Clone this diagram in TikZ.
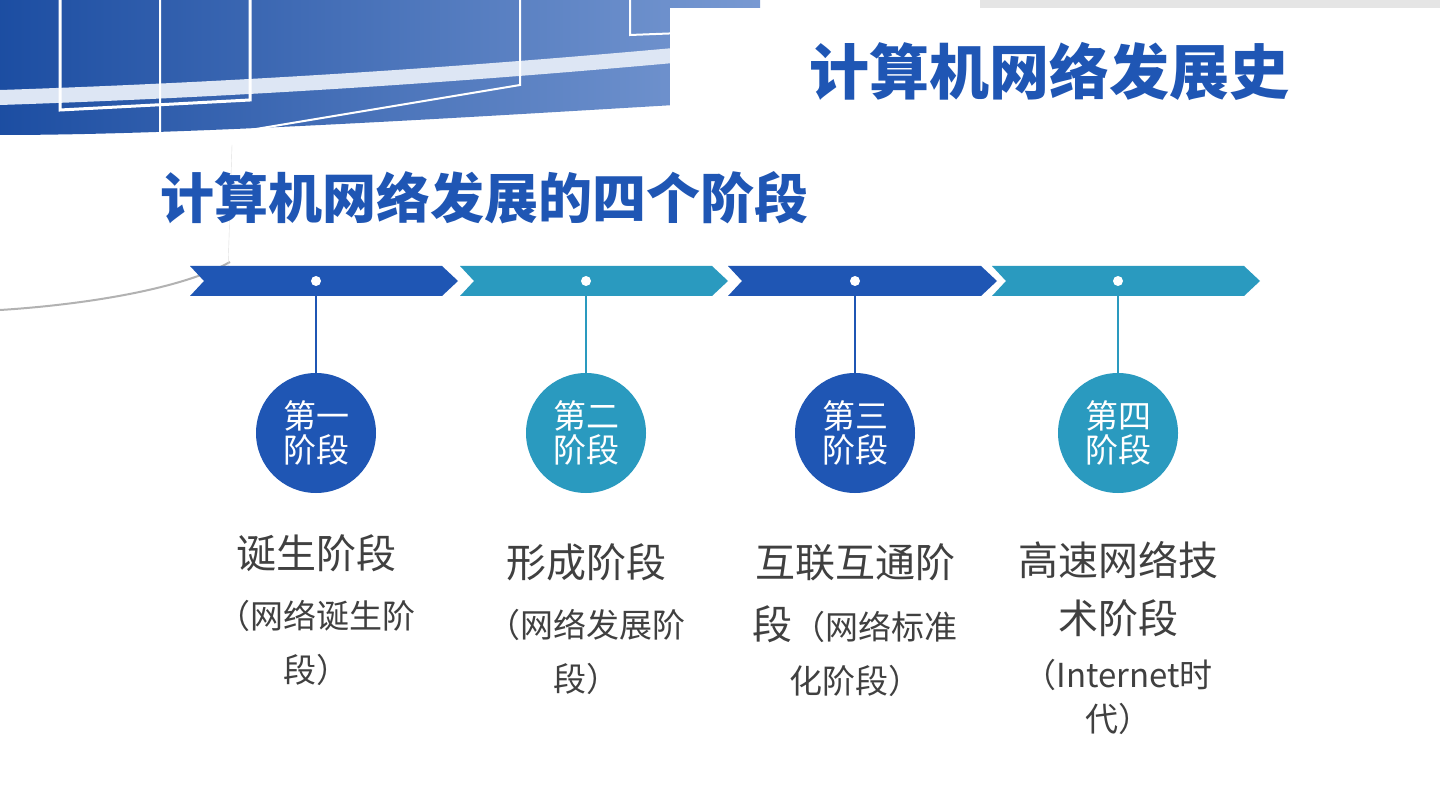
\documentclass[tikz,border=0pt]{standalone}
\usepackage{fontspec}
\setmainfont{Noto Sans CJK SC}
\usetikzlibrary{calc, positioning}
\definecolor{darkblue}{HTML}{1F56B4}
\definecolor{tealblue}{HTML}{2A9ABF}
\definecolor{textgray}{HTML}{404040}
\newcommand{\bigline}[1]{{\fontsize{40}{58}\selectfont #1}}
\newcommand{\smlline}[1]{{\fontsize{33}{56}\selectfont #1}}
\begin{document}
\begin{tikzpicture}[x=1pt, y=-1pt,
    stage/.style = {circle, minimum size=120pt, inner sep=0pt, text=white, align=center, font=\fontsize{33}{36}\selectfont},
    dot/.style = {circle, fill=white, minimum size=10pt, inner sep=0pt},
    label text/.style = {text=textgray, align=center, anchor=north, inner sep=0pt, font=\fontsize{40}{58}\selectfont}]
    \useasboundingbox (0, 0) rectangle (1440, 810);
    \fill[white] (0, 0) rectangle (1440, 810);

    % background band at the top left
    \shade[left color=darkblue!90!black, right color=darkblue!60!white]
        (0, 0) -- (760, 0) -- (760, 100) .. controls (500, 115) and (200, 135) .. (0, 135) -- cycle;
    \fill[white!85!darkblue] (0, 90) .. controls (300, 80) and (550, 60) .. (760, 40) -- (760, 55) .. controls (550, 75) and (300, 95) .. (0, 105) -- cycle;
    \draw[white, line width=3pt] (60, 0) -- (60, 110) -- (250, 100) -- (250, 0);
    \draw[white, line width=2pt] (160, 0) -- (160, 145) -- (520, 85) -- (520, 0);
    \draw[white, line width=2pt] (630, 0) -- (630, 35) -- (760, 30);
    \draw[gray!60, line width=2pt] (0, 310) .. controls (80, 305) and (180, 290) .. (230, 262);
    \draw[gray!25] (232, 145) -- (228, 270);
    \fill[gray!20] (980, 0) rectangle (1440, 8);
    \fill[white] (670, 8) -- (1425, 8) -- (1425, 150) -- (670, 150) -- cycle;

    % titles
    \node[text=darkblue, font=\fontsize{60}{64}\selectfont\bfseries, anchor=east, inner sep=0pt] (title) at (1290, 72) {计算机网络发展史};
    \node[text=darkblue, font=\fontsize{54}{58}\selectfont\bfseries, anchor=west, inner sep=0pt] (subtitle) at (160, 198) {计算机网络发展的四个阶段};

    % timeline
    \foreach \i/\xa/\xb/\col in {1/190/458/darkblue, 2/460/728/tealblue, 3/728/997/darkblue, 4/992/1260/tealblue}
        \fill[\col] (\xa, 266) -- ({\xb-16}, 266) -- (\xb, 281) -- ({\xb-16}, 296) -- (\xa, 296) -- ({\xa+14}, 281) -- cycle;

    \foreach \i/\x/\col/\num in {1/316/darkblue/一, 2/586/tealblue/二, 3/855/darkblue/三, 4/1118/tealblue/四} {
        \node[dot] (dot\i) at (\x, 281) {};
        \node[stage, fill=\col] (stage\i) at (\x, 433) {第\num\\[-2pt]阶段};
        \draw[\col, line width=2pt] (dot\i) -- (stage\i);
    }

    % stage descriptions
    \node[label text] (desc1) at (316, 534) {\bigline{诞生阶段}\\[2pt]\smlline{（网络诞生阶}\\[-4pt]\smlline{段）}};
    \node[label text] (desc2) at (586, 543) {\bigline{形成阶段}\\[2pt]\smlline{（网络发展阶}\\[-4pt]\smlline{段）}};
    \node[label text] (desc3) at (855, 543) {\bigline{互联互通阶}\\[4pt]\bigline{段}\smlline{（网络标准}\\[-4pt]\smlline{化阶段）}};
    \node[label text] (desc4) at (1118, 541) {\bigline{高速网络技}\\\bigline{术阶段}\\[-4pt]\smlline{（Internet时}\\[-14pt]\smlline{代）}};
\end{tikzpicture}
\end{document}
